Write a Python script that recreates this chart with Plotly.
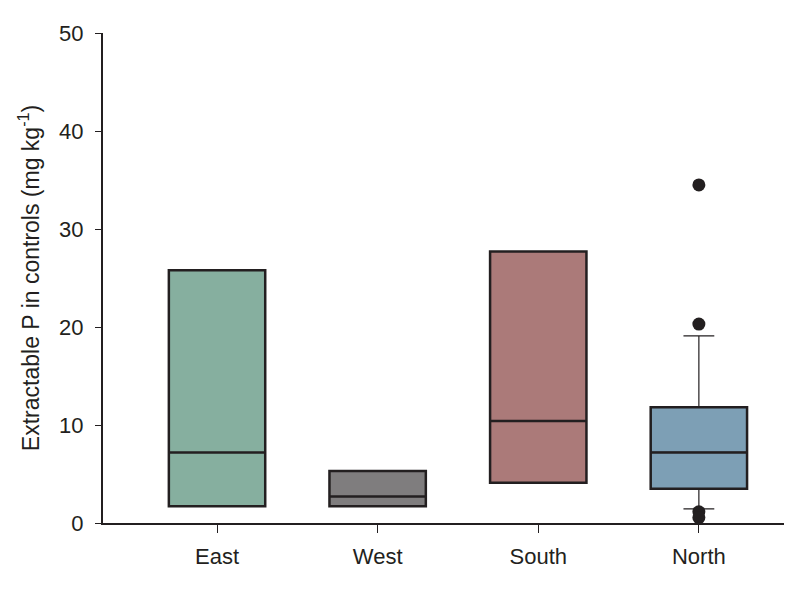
import plotly.graph_objects as go

categories = ["East", "West", "South", "North"]
q1 = [1.7, 1.7, 4.1, 3.5]
median = [7.2, 2.7, 10.4, 7.2]
q3 = [25.8, 5.3, 27.7, 11.8]
lower_whisker = [1.7, 1.7, 4.1, 1.45]
upper_whisker = [25.8, 5.3, 27.7, 19.1]
colors = ["#86AF9F", "#7F7D7E", "#AB7A79", "#7D9FB5"]

outlier_cat = ["North", "North", "North", "North"]
outlier_val = [34.5, 20.3, 1.15, 0.55]

ink = "#231F20"
fig = go.Figure()

for i, c in enumerate(categories):
    has_whisk = lower_whisker[i] != q1[i] or upper_whisker[i] != q3[i]
    fig.add_trace(go.Box(
        x=[c], q1=[q1[i]], median=[median[i]], q3=[q3[i]],
        lowerfence=[q1[i]], upperfence=[q3[i]],
        fillcolor=colors[i], line=dict(color=ink, width=2.5),
        width=0.6, whiskerwidth=0, boxpoints=False, hoverinfo="skip",
        showlegend=False,
    ))
    if has_whisk:
        fig.add_trace(go.Box(
            x=[c], q1=[q1[i]], median=[median[i]], q3=[q3[i]],
            lowerfence=[lower_whisker[i]], upperfence=[upper_whisker[i]],
            fillcolor="rgba(0,0,0,0)", line=dict(color=ink, width=1.2),
            width=0.6, whiskerwidth=0.32, boxpoints=False, hoverinfo="skip",
            showlegend=False,
        ))

fig.add_trace(go.Scatter(
    x=outlier_cat, y=outlier_val, mode="markers",
    marker=dict(color=ink, size=13), showlegend=False,
))

# page body has an 8px default margin, so margins compensate for it
fig.update_layout(
    width=804, height=596,
    margin=dict(l=95, r=28, t=25, b=81),
    plot_bgcolor="white", paper_bgcolor="white",
    font=dict(family="Liberation Sans, Arial, sans-serif", size=22, color=ink),
    boxmode="overlay",
)
fig.update_xaxes(
    categoryorder="array", categoryarray=categories,
    range=[-0.71, 3.53], showline=True, linecolor=ink, linewidth=2,
    ticks="outside", ticklen=8, tickwidth=1, tickcolor=ink,
    showgrid=False, zeroline=False, tickfont=dict(size=22),
    ticklabelstandoff=5, automargin=False,
)
fig.update_yaxes(
    range=[0, 50], tickvals=[0, 10, 20, 30, 40, 50],
    showline=True, linecolor=ink, linewidth=2,
    ticks="outside", ticklen=6, tickwidth=1, tickcolor=ink,
    showgrid=False, zeroline=False, tickfont=dict(size=22),
    ticklabelstandoff=7, automargin=False,
    title=dict(text="Extractable P in controls (mg kg<sup>-1</sup>)", font=dict(size=23), standoff=13),
)

fig.write_html("out.html")
